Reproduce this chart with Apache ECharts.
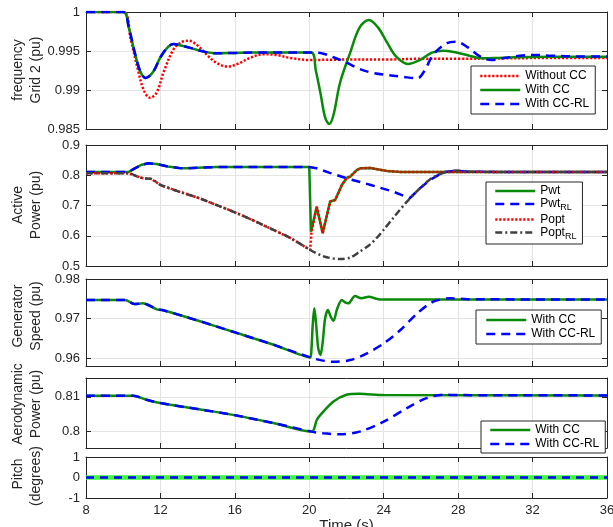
<!DOCTYPE html>
<html><head><meta charset="utf-8">
<script src="https://cdn.jsdelivr.net/npm/echarts@6/dist/echarts.min.js"></script>
<style>html,body{margin:0;padding:0;background:#fff}#c{width:613px;height:527px}</style>
</head><body><div id="c"></div>
<script>
// ---------- Data ----------
const xTicks = [8, 12, 16, 20, 24, 28, 32, 36];

// Panel 1: frequency Grid 2 (pu)
const tFreqWithout = [8,10,10.4,10.8,11.1,11.44,11.8,12.2,12.7,13.1,13.5,14.0,14.5,15.0,15.6,16.2,16.8,17.5,18.2,19.0,20.0,22,24,26,28,30,33,36];
const freqWithout = [1.0,1.0,0.9965,0.9925,0.9900,0.9890,0.9897,0.9925,0.9952,0.9961,0.99632,0.9957,0.9945,0.9935,0.9930,0.9934,0.9941,0.99458,0.9945,0.9941,0.99385,0.9939,0.9939,0.9940,0.9940,0.99405,0.9941,0.9941];
const tFreqCC = [8,10,10.3,10.6,10.9,11.2,11.6,12.0,12.4,12.7,13.1,13.6,14.2,15.0,16.0,17.0,18.5,20.1,20.35,20.6,20.85,21.07,21.3,21.65,22.2,22.7,23.2,23.7,24.2,24.7,25.3,25.9,26.6,27.2,27.9,28.6,29.3,30,31,33,36];
const freqCC = [1,1,0.998,0.995,0.9925,0.99154,0.9923,0.9942,0.9955,0.9959,0.9957,0.9954,0.9950,0.9947,0.99475,0.9948,0.9948,0.9948,0.9925,0.9896,0.9865,0.98564,0.9868,0.9909,0.9948,0.9980,0.99897,0.9980,0.9960,0.9942,0.99333,0.9938,0.9948,0.99504,0.9948,0.9944,0.99406,0.9941,0.9942,0.99425,0.99425];
const tFreqRL = [8,10,10.3,10.6,10.9,11.2,11.6,12.0,12.4,12.7,13.1,13.6,14.2,15.0,16.0,17.0,18.5,20.2,20.6,21.3,22.0,22.7,23.4,24.2,25.0,25.8,26.2,26.65,27.4,27.9,28.5,29.2,29.8,30.5,31.3,32,33,34.5,36];
const freqRL = [1,1,0.998,0.995,0.9925,0.99154,0.9923,0.9942,0.9955,0.9959,0.9957,0.9954,0.9950,0.9947,0.99475,0.9948,0.9948,0.9948,0.99475,0.9942,0.9935,0.9927,0.9922,0.99192,0.9917,0.9915,0.9925,0.99449,0.9960,0.99619,0.9955,0.99427,0.99385,0.9941,0.9944,0.9945,0.9944,0.9943,0.9943];
const freqTicks = [0.985, 0.99, 0.995, 1];

// Panel 2: Active Power (pu)
const tPwt = [8,10.3,10.6,11.0,11.35,11.8,12.4,13.0,13.4,14,15,16,18,20.0,20.09,20.4,20.72,21.12,21.39,21.75,22.02,22.19,22.55,22.73,23.27,24.18,24.9,26,36];
const pwt = [0.811,0.811,0.822,0.835,0.8395,0.837,0.829,0.824,0.823,0.825,0.827,0.8275,0.8275,0.8275,0.613,0.696,0.608,0.713,0.718,0.768,0.792,0.795,0.817,0.823,0.824,0.814,0.811,0.811,0.811];
const tPwtRL = [8,10.3,10.6,11.0,11.35,11.8,12.4,13.0,13.4,14,15,16,18,20.0,20.4,21.1,22.0,23.3,24.5,25.4,25.95,26.5,27.2,27.9,28.5,30,36];
const pwtRL = [0.811,0.811,0.822,0.835,0.8395,0.837,0.829,0.824,0.823,0.825,0.827,0.8275,0.8275,0.8275,0.823,0.808,0.790,0.768,0.746,0.724,0.757,0.785,0.810,0.815,0.812,0.811,0.811];
const tPopt = [8,10.3,10.8,11.1,11.5,12.0,13.0,14.1,15.0,15.9,16.8,17.7,19.0,20.05,20.09,20.12,20.4,20.72,21.12,21.39,21.75,22.02,22.19,22.55,22.73,23.27,24.18,24.9,26,36];
const popt = [0.8065,0.8065,0.795,0.790,0.788,0.768,0.746,0.724,0.702,0.680,0.656,0.630,0.592,0.553,0.547,0.613,0.696,0.608,0.713,0.718,0.768,0.792,0.795,0.817,0.823,0.824,0.814,0.811,0.811,0.811];
const tPoptRL = [8,10.3,10.8,11.1,11.5,12.0,13.0,14.1,15.0,15.9,16.8,17.7,19.0,20.05,20.6,21.0,21.65,22.2,22.7,23.2,23.6,24.0,24.5,25.25,25.95,26.5,26.9,27.3,27.9,28.5,30,36];
const poptRL = [0.8065,0.8065,0.795,0.790,0.788,0.768,0.746,0.724,0.702,0.680,0.656,0.630,0.592,0.553,0.536,0.528,0.523,0.528,0.547,0.568,0.591,0.620,0.658,0.713,0.757,0.787,0.801,0.810,0.816,0.8125,0.811,0.811];
const powerTicks = [0.5, 0.6, 0.7, 0.8, 0.9];

// Panel 3: Generator Speed (pu)
const tSpdCC = [8,10.1,10.6,11.06,11.4,11.8,12.1,14,15.9,18,20.05,20.12,20.18,20.27,20.36,20.48,20.6,20.72,20.85,21.0,21.15,21.3,21.5,21.75,21.95,22.1,22.46,22.8,23.2,23.7,24.5,36];
const spdCC = [0.9747,0.9747,0.97367,0.97385,0.9733,0.97233,0.97215,0.9695,0.96666,0.9635,0.96018,0.9625,0.9680,0.97258,0.9690,0.9625,0.96076,0.9640,0.9700,0.97215,0.9705,0.96944,0.9725,0.97468,0.9740,0.97385,0.9757,0.97511,0.9755,0.9749,0.9748,0.9748];
const tSpdRL = [8,10.1,10.6,11.06,11.4,11.8,12.1,14,15.9,18,20.05,20.6,21.3,22.2,23.1,24,24.9,25.8,26.66,27.6,28.5,36];
const spdRL = [0.9747,0.9747,0.97367,0.97385,0.9733,0.97233,0.97215,0.9695,0.96666,0.9635,0.96018,0.95949,0.95907,0.9595,0.9612,0.9637,0.9671,0.9713,0.97426,0.97511,0.9749,0.9748];
const speedTicks = [0.96, 0.97, 0.98];

// Panel 4: Aerodynamic Power (pu)
const tAeroCC = [8,10.55,11.2,12.0,14,15.9,18,20.13,20.4,20.6,21.3,22.0,22.7,24,36];
const aeroCC = [0.8103,0.8103,0.8092,0.80815,0.8064,0.8047,0.8024,0.7998,0.8032,0.8047,0.8086,0.8106,0.8109,0.8105,0.8104];
const tAeroRL = [8,10.55,11.2,12.0,14,15.9,18,20.13,20.75,21.65,22.7,24,25.25,26.3,27.2,28,36];
const aeroRL = [0.8103,0.8103,0.8092,0.80815,0.8064,0.8047,0.8024,0.7998,0.7993,0.7990,0.7998,0.8027,0.8067,0.8096,0.8106,0.8105,0.8104];
const aeroTicks = [0.8, 0.81];

// Panel 5: Pitch (degrees)
const tPitch = [8, 36];
const pitchCC = [0, 0];
const pitchRL = [0, 0];
const pitchTicks = [-1, 0, 1];

// ---------- Chart ----------
const FF = '"Liberation Sans", Arial, Helvetica, sans-serif';
const AX = '#262626';
const GRIDC = '#e4e4e4';
const zip = (t, v) => t.map((x, i) => [x, v[i]]);

const panels = [
  {top: 12,  height: 117, min: 0.985, max: 1.0,    ticks: freqTicks},
  {top: 145, height: 121, min: 0.5,   max: 0.9,    ticks: powerTicks},
  {top: 279, height: 87,  min: 0.958, max: 0.98,   ticks: speedTicks},
  {top: 378, height: 70,  min: 0.795, max: 0.8155, ticks: aeroTicks},
  {top: 457, height: 41,  min: -1,    max: 1,      ticks: pitchTicks}
];

const grid = [], xAxis = [], yAxis = [];
panels.forEach((p, i) => {
  grid.push({left: 86, right: 6, top: p.top, height: p.height, outerBoundsMode: 'none', containLabel: false});
  ['bottom', 'top'].forEach(pos => {
    xAxis.push({
      type: 'value', gridIndex: i, position: pos, min: 8, max: 36, interval: 4,
      axisLine: {show: true, onZero: false, lineStyle: {color: AX, width: 1}},
      axisTick: {show: true, inside: true, length: 5, customValues: xTicks, lineStyle: {color: AX}},
      axisLabel: {show: pos === 'bottom' && i === 4, customValues: xTicks, margin: 6, fontSize: 13, color: AX, fontFamily: FF},
      splitLine: {show: pos === 'bottom', lineStyle: {color: GRIDC, width: 1}}
    });
  });
  ['left', 'right'].forEach(pos => {
    yAxis.push({
      type: 'value', gridIndex: i, position: pos, min: p.min, max: p.max,
      axisLine: {show: true, onZero: false, lineStyle: {color: AX, width: 1}},
      axisTick: {show: true, inside: true, length: 5, customValues: p.ticks, lineStyle: {color: AX}},
      axisLabel: {show: pos === 'left', customValues: p.ticks, margin: 6, fontSize: 13, color: AX, fontFamily: FF},
      splitLine: {show: pos === 'left', lineStyle: {color: GRIDC, width: 1}}
    });
  });
});

function line(name, t, v, gi, color, width, dash, extra) {
  return Object.assign({
    type: 'line', name: name, xAxisIndex: gi * 2, yAxisIndex: gi * 2,
    data: zip(t, v), symbol: 'none', showSymbol: false, animation: false,
    lineStyle: {color: color, width: width, type: dash},
    itemStyle: {color: color}
  }, extra || {});
}

const RED = '#ff0000', GREEN = '#0a8a0a', BLUE = '#0000ff', GREY = '#404040';
const DOT = [2.2, 1.8], DASH = [9, 6], DASHDOT = [7, 3, 2, 3];

const series = [
  line('Without CC', tFreqWithout, freqWithout, 0, RED, 2.5, DOT, {smooth: 0.35}),
  line('With CC', tFreqCC, freqCC, 0, GREEN, 2.5, 'solid', {smooth: 0.35}),
  line('With CC-RL', tFreqRL, freqRL, 0, BLUE, 2.5, DASH, {smooth: 0.35}),

  line('Pwt', tPwt, pwt, 1, GREEN, 2.5, 'solid'),
  line('Pwt_RL', tPwtRL, pwtRL, 1, BLUE, 2.5, DASH),
  line('Popt', tPopt, popt, 1, RED, 2.5, DOT),
  line('Popt_RL', tPoptRL, poptRL, 1, GREY, 2.5, DASHDOT, {smooth: 0.3}),

  line('With CC', tSpdCC, spdCC, 2, GREEN, 2.5, 'solid', {smooth: 0.3}),
  line('With CC-RL', tSpdRL, spdRL, 2, BLUE, 2.5, DASH, {smooth: 0.3}),

  line('With CC', tAeroCC, aeroCC, 3, GREEN, 2.5, 'solid', {smooth: 0.3}),
  line('With CC-RL', tAeroRL, aeroRL, 3, BLUE, 2.5, DASH, {smooth: 0.3}),

  line('Pitch CC', tPitch, pitchCC, 4, '#3cf53c', 4.5, 'solid'),
  line('Pitch CC-RL', tPitch, pitchRL, 4, BLUE, 2.5, [8, 6])
];

const legendBase = {
  orient: 'vertical', itemWidth: 40, itemGap: 2, borderColor: AX, borderWidth: 1,
  backgroundColor: '#ffffff', borderRadius: 0, selectedMode: false,
  itemStyle: {opacity: 0, borderWidth: 0},
  lineStyle: {width: 2.5},
  textStyle: {fontSize: 12, color: '#000', fontFamily: FF}
};
const legend = [
  Object.assign({}, legendBase, {data: ['Without CC', 'With CC', 'With CC-RL'], left: 471, top: 66, itemHeight: 13, padding: [4, 6, 4, 8]}),
  Object.assign({}, legendBase, {
    data: ['Pwt', 'Pwt_RL', 'Popt', 'Popt_RL'], left: 486, top: 182, itemHeight: 14, itemGap: 1, padding: [3, 6, 3, 8],
    formatter: function (n) {
      if (n === 'Pwt_RL') return '{b|Pwt}{s|RL}';
      if (n === 'Popt_RL') return '{b|Popt}{s|RL}';
      return n;
    },
    textStyle: {fontSize: 12, color: '#000', fontFamily: FF,
      rich: {b: {fontSize: 12, color: '#000', fontFamily: FF}, s: {fontSize: 9, color: '#000', fontFamily: FF, padding: [8, 0, 0, 0]}}}
  }),
  Object.assign({}, legendBase, {data: ['With CC', 'With CC-RL'], left: 476, top: 310, itemHeight: 13, padding: [4, 6, 4, 9]}),
  Object.assign({}, legendBase, {data: ['With CC', 'With CC-RL'], left: 481, top: 421, itemHeight: 13, padding: [3, 6, 3, 8]})
];

function vtext(txt, x, y) {
  return {type: 'text', x: x, y: y, rotation: Math.PI / 2, silent: true,
    style: {text: txt, font: '14px ' + FF, fill: AX, align: 'center', verticalAlign: 'middle', textAlign: 'center', textVerticalAlign: 'middle'}};
}
const graphic = [
  vtext('frequency', 18, 70), vtext('Grid 2 (pu)', 36, 70),
  vtext('Active', 18, 205), vtext('Power (pu)', 36, 205),
  vtext('Generator', 18, 316), vtext('Speed (pu)', 36, 316),
  vtext('Aerodynamic', 18, 404), vtext('Power (pu)', 36, 404),
  vtext('Pitch', 18, 474), vtext('(degrees)', 36, 476),
  {type: 'text', x: 346.5, y: 518, silent: true,
   style: {text: 'Time (s)', font: '15px ' + FF, fill: AX, align: 'center', verticalAlign: 'top', textAlign: 'center', textVerticalAlign: 'top'}}
];

const chart = echarts.init(document.getElementById('c'), null, {renderer: 'canvas'});
chart.setOption({
  animation: false,
  backgroundColor: '#ffffff',
  grid: grid, xAxis: xAxis, yAxis: yAxis,
  legend: legend, series: series, graphic: graphic
});
</script></body></html>
